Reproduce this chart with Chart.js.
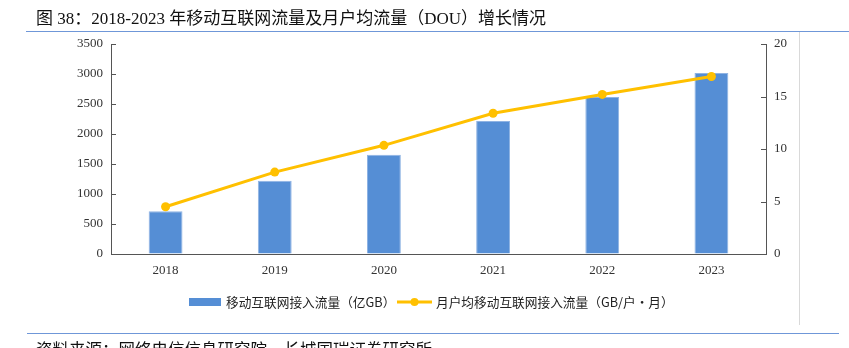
<!DOCTYPE html>
<html>
<head>
<meta charset="utf-8">
<script src="https://cdn.jsdelivr.net/npm/chart.js@4.4.1/dist/chart.umd.min.js"></script>
<style>
  html, body { margin: 0; padding: 0; background: #fff; }
  #wrap { position: relative; width: 849px; height: 348px; overflow: hidden; }
  #chart { position: absolute; left: 0; top: 0; }
  .title { position: absolute; left: 36px; top: 4px; font-size: 17px; color: #111;
           font-family: "Liberation Serif", "Noto Sans CJK SC", serif; white-space: nowrap; }
  .source { position: absolute; left: 36px; top: 337px; font-size: 16.5px; color: #111;
            font-family: "Noto Sans CJK SC", sans-serif; white-space: nowrap; }
  .hline { position: absolute; height: 1px; background: #6f97d8; }
  .vline { position: absolute; width: 1px; background: #d9d9d9; }
</style>
</head>
<body>
<div id="wrap">
  <canvas id="chart" width="849" height="348"></canvas>
  <div class="title">图 38：2018-2023 年移动互联网流量及月户均流量（DOU）增长情况</div>
  <div class="hline" style="left:26px; top:31px; width:823px;"></div>
  <div class="vline" style="left:799px; top:32px; height:293px;"></div>
  <div class="hline" style="left:27px; top:333px; width:812px;"></div>
  <div class="source">资料来源：网络电信信息研究院，长城国瑞证券研究所</div>
</div>
<script>
// data
const years = ['2018', '2019', '2020', '2021', '2022', '2023'];
const traffic = [711, 1220, 1656, 2216, 2618, 3015];      // 亿GB
const dou = [4.5, 7.8, 10.35, 13.4, 15.2, 16.9];          // GB/户·月

const trafficLabel = '移动互联网接入流量（亿GB）';
const douLabel = '月户均移动互联网接入流量（GB/户・月）';

const barColor = '#558ed5';
const lineColor = '#ffc000';
const axisColor = '#555555';
const serif = '"Liberation Serif", "Times New Roman", serif';
const cjk = '"Noto Sans CJK SC", sans-serif';

// small inward tick marks on both value axes
const innerTicks = {
    id: 'innerTicks',
    afterDraw(chart) {
        const ctx = chart.ctx;
        ctx.save();
        ctx.strokeStyle = axisColor;
        ctx.lineWidth = 1;
        ['y', 'y1'].forEach(id => {
            const s = chart.scales[id];
            const x = id === 'y' ? chart.chartArea.left : chart.chartArea.right;
            const dir = id === 'y' ? 1 : -1;
            s.ticks.forEach(t => {
                const py = Math.round(s.getPixelForValue(t.value)) + 0.5;
                ctx.beginPath();
                ctx.moveTo(x, py);
                ctx.lineTo(x + dir * 5, py);
                ctx.stroke();
            });
        });
        ctx.restore();
    }
};

// legend drawn by hand so the line marker shows a dot
const bottomLegend = {
    id: 'bottomLegend',
    afterDraw(chart) {
        const ctx = chart.ctx;
        const ds = chart.data.datasets;
        const y = 302;
        ctx.save();
        ctx.font = '12.7px ' + cjk;
        ctx.textBaseline = 'middle';

        // bar entry
        ctx.fillStyle = ds[0].backgroundColor;
        ctx.fillRect(189, y - 4, 32, 8);
        ctx.fillStyle = '#222';
        ctx.fillText(ds[0].label, 226, y);

        // line entry
        ctx.strokeStyle = ds[1].borderColor;
        ctx.lineWidth = 3;
        ctx.beginPath();
        ctx.moveTo(397, y);
        ctx.lineTo(432, y);
        ctx.stroke();
        ctx.fillStyle = ds[1].borderColor;
        ctx.beginPath();
        ctx.arc(414.5, y, 4, 0, Math.PI * 2);
        ctx.fill();
        ctx.fillStyle = '#222';
        ctx.fillText(ds[1].label, 436, y);
        ctx.restore();
    }
};

new Chart(document.getElementById('chart'), {
    type: 'bar',
    data: {
        labels: years,
        datasets: [{
            label: trafficLabel,
            data: traffic,
            backgroundColor: barColor,
            borderColor: '#8fb3e3',
            borderWidth: { top: 1, left: 1, right: 1, bottom: 0 },
            barPercentage: 0.31,
            categoryPercentage: 1,
            yAxisID: 'y',
            order: 2
        }, {
            type: 'line',
            label: douLabel,
            data: dou,
            borderColor: lineColor,
            backgroundColor: lineColor,
            borderWidth: 3,
            pointRadius: 4.5,
            pointBackgroundColor: lineColor,
            pointBorderWidth: 0,
            tension: 0,
            yAxisID: 'y1',
            order: 1
        }]
    },
    options: {
        responsive: false,
        animation: false,
        layout: { padding: { top: 44, left: 0, right: 0, bottom: 0 } },
        plugins: {
            legend: { display: false },
            tooltip: { enabled: false }
        },
        scales: {
            x: {
                grid: { display: false, drawTicks: false },
                border: { display: true, color: axisColor, width: 1 },
                ticks: { color: '#333', font: { family: serif, size: 13 }, padding: 9 },
                afterFit: s => { s.height = 94; }
            },
            y: {
                position: 'left',
                min: 0, max: 3500,
                grid: { drawOnChartArea: false, drawTicks: false },
                border: { display: true, color: axisColor, width: 1 },
                ticks: {
                    stepSize: 500, color: '#333', font: { family: serif, size: 13 }, padding: 8,
                    callback: v => String(v)
                },
                afterFit: s => { s.width = 111; }
            },
            y1: {
                position: 'right',
                min: 0, max: 20,
                grid: { drawOnChartArea: false, drawTicks: false },
                border: { display: true, color: axisColor, width: 1 },
                ticks: {
                    stepSize: 5, color: '#333', font: { family: serif, size: 13 }, padding: 8,
                    callback: v => String(v)
                },
                afterFit: s => { s.width = 83; }
            }
        }
    },
    plugins: [innerTicks, bottomLegend]
});
</script>
</body>
</html>
